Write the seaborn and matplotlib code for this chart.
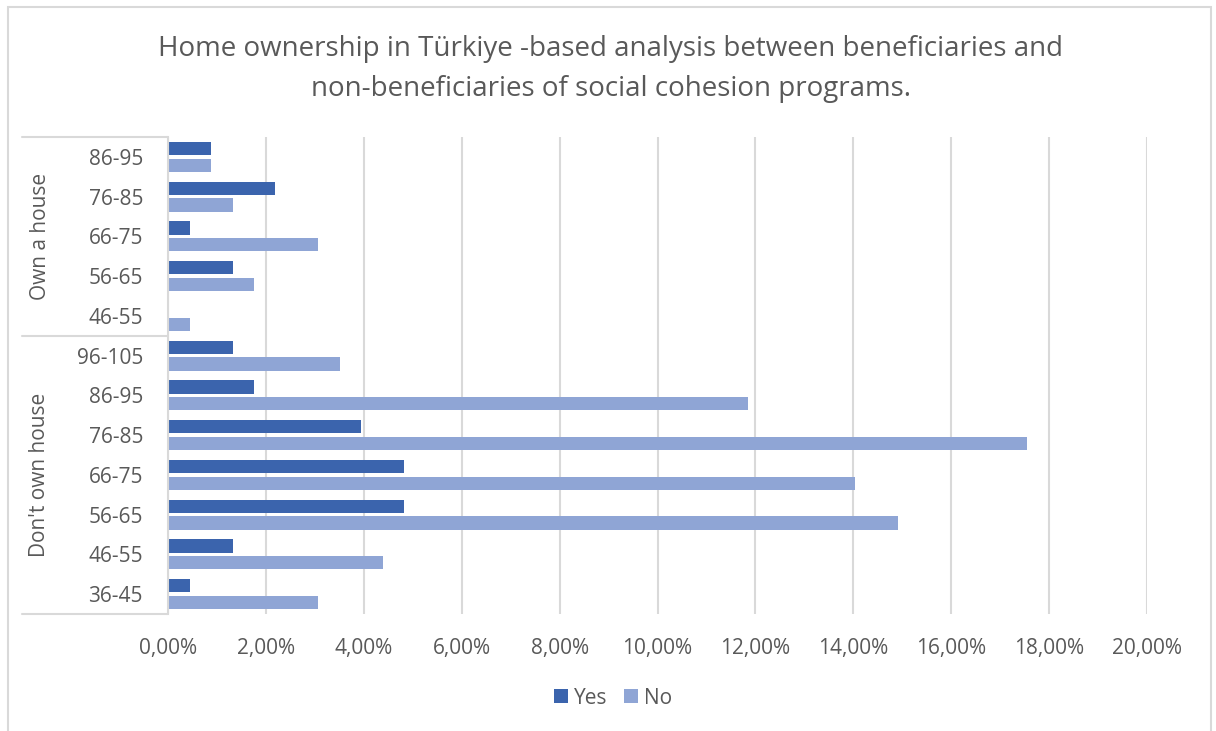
import matplotlib
matplotlib.use("Agg")
import matplotlib.pyplot as plt
import matplotlib.transforms as mtransforms
from matplotlib.patches import Rectangle, Patch
from matplotlib.lines import Line2D
from matplotlib.ticker import FuncFormatter
import seaborn as sns
import pandas as pd
import numpy as np

# ---- data ----
groups = ["Own a house"] * 5 + ["Don't own house"] * 7
ages = ["86-95", "76-85", "66-75", "56-65", "46-55",
        "96-105", "86-95", "76-85", "66-75", "56-65", "46-55", "36-45"]
yes_vals = [0.88, 2.19, 0.44, 1.32, 0.00,
            1.32, 1.75, 3.95, 4.82, 4.82, 1.32, 0.44]
no_vals = [0.88, 1.32, 3.07, 1.75, 0.44,
           3.51, 11.84, 17.54, 14.04, 14.91, 4.39, 3.07]
series = ["Yes", "No"]
colors = ["#3B64AD", "#8FA5D5"]
title = ("Home ownership in Türkiye -based analysis between beneficiaries and\n"
         "non-beneficiaries of social cohesion programs.")
xticks = np.arange(0, 0.2001, 0.02)

# ---- build table ----
keys = [f"{g}|{a}" for g, a in zip(groups, ages)]
rows = []
for k, y, n in zip(keys, yes_vals, no_vals):
    rows.append({"key": k, "series": "Yes", "value": y / 100})
    rows.append({"key": k, "series": "No", "value": n / 100})
df = pd.DataFrame(rows)

sns.set_style("white")
plt.rcParams["font.family"] = ["Open Sans", "DejaVu Sans"]
txt = "#595959"
grid_c = "#D9D9D9"

W, H = 1216, 731
fig = plt.figure(figsize=(W / 100, H / 100), dpi=100)
ax = fig.add_axes([168 / W, 1 - 614 / H, (1147 - 168) / W, (614 - 137) / H])

sns.barplot(data=df, x="value", y="key", hue="series", order=keys,
            hue_order=series, palette=colors, saturation=1, orient="h",
            width=0.84, gap=0.2, linewidth=0, errorbar=None, ax=ax,
            legend=False)

ax.set_xlim(0, 0.20)
ax.set_ylim(len(keys) - 0.5, -0.5)
ax.set_xticks(xticks)
ax.xaxis.set_major_formatter(FuncFormatter(lambda v, p: f"{v*100:.2f}%".replace(".", ",")))
ax.set_yticks(range(len(keys)))
ax.set_yticklabels(ages)
ax.tick_params(axis="both", length=0, labelsize=15, labelcolor=txt)
ax.tick_params(axis="x", pad=17)
ax.tick_params(axis="y", pad=18)
ax.set_xlabel("")
ax.set_ylabel("")
ax.grid(axis="x", color=grid_c, lw=1.5)
ax.grid(axis="y", visible=False)
ax.set_axisbelow(True)
for s in ["top", "right", "bottom"]:
    ax.spines[s].set_visible(False)
ax.spines["left"].set_color(grid_c)
ax.spines["left"].set_linewidth(1.5)

# group separators and labels
tr = mtransforms.blended_transform_factory(fig.transFigure, ax.transData)
for yv in [-0.5, 4.5, 11.5]:
    fig.add_artist(Line2D([22 / W, 167 / W], [yv, yv], transform=tr,
                          color=grid_c, lw=1.5))
ax.text(40 / W, 2.0, "Own a house", transform=tr, rotation=90,
        ha="center", va="center", fontsize=15, color=txt)
ax.text(40 / W, 8.0, "Don't own house", transform=tr, rotation=90,
        ha="center", va="center", fontsize=15, color=txt)

# title
fig.text(611 / W, 1 - 69 / H, title, ha="center", va="center",
         fontsize=20, color=txt, linespacing=1.6)

# legend
handles = [Patch(facecolor=c, edgecolor="none") for c in colors]
fig.legend(handles, series, loc="center", bbox_to_anchor=(613 / W, 1 - 698 / H),
           ncol=2, frameon=False, fontsize=15, labelcolor=txt,
           handlelength=0.65, handleheight=0.65, handletextpad=0.3,
           columnspacing=0.8)

# chart border
fig.add_artist(Rectangle((8 / W, -0.02), (1211 - 8) / W, 1.02 - 7 / H,
                         transform=fig.transFigure, fill=False,
                         edgecolor=grid_c, lw=1.5))

fig.savefig("out.png", dpi=100)
